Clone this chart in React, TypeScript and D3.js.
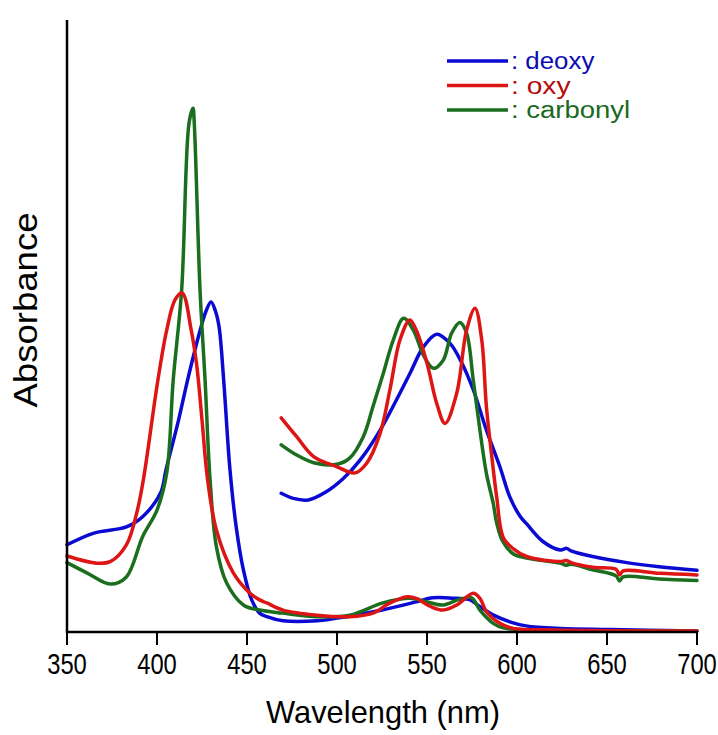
import React from "react";
import * as d3 from "d3";

// Full-range spectra (wavelength nm, absorbance arb. units)
const deoxyNm = [350, 365, 383, 392, 402, 405, 412, 417, 424, 427, 430, 432.5, 434.5, 437, 440.5, 444, 448, 452.6, 457, 461, 470, 489, 507, 525, 544, 553, 566, 574, 578, 587, 596, 605, 624, 652, 700];
const deoxyAbs = [0.171, 0.194, 0.206, 0.226, 0.273, 0.318, 0.416, 0.494, 0.592, 0.627, 0.647, 0.629, 0.598, 0.496, 0.320, 0.206, 0.122, 0.063, 0.037, 0.030, 0.022, 0.022, 0.031, 0.043, 0.059, 0.067, 0.066, 0.063, 0.053, 0.033, 0.020, 0.012, 0.007, 0.005, 0.002];

const oxyNm = [350, 366.5, 374, 383, 388.7, 392.4, 400.5, 405.4, 410, 414, 419, 422, 425, 428, 433, 442.4, 451.7, 457, 461, 470, 489, 507, 520, 529, 539, 544, 552, 559, 566.5, 575.7, 579.4, 583, 590.5, 598, 620, 700];
const oxyAbs = [0.149, 0.135, 0.138, 0.171, 0.233, 0.298, 0.494, 0.592, 0.651, 0.665, 0.592, 0.525, 0.416, 0.302, 0.200, 0.116, 0.076, 0.063, 0.057, 0.043, 0.033, 0.030, 0.037, 0.056, 0.069, 0.066, 0.050, 0.043, 0.053, 0.076, 0.066, 0.040, 0.017, 0.007, 0.004, 0.002];

const carbonylNm = [350, 361, 374, 383, 392, 400, 405.4, 409, 413.7, 417.8, 420, 420.7, 423.9, 426.7, 429.5, 433, 438.7, 448, 457, 470, 489, 507, 525.6, 540.5, 550, 559, 568, 574.8, 579.4, 586.8, 592.4, 610, 700];
const carbonylAbs = [0.136, 0.116, 0.094, 0.108, 0.187, 0.239, 0.312, 0.494, 0.671, 0.998, 1.027, 0.998, 0.671, 0.494, 0.298, 0.167, 0.096, 0.053, 0.043, 0.037, 0.030, 0.033, 0.057, 0.066, 0.059, 0.053, 0.064, 0.067, 0.043, 0.017, 0.008, 0.004, 0.002];

// Magnified visible-region spectra (470–700 nm)
const deoxyMagNm = [469, 475.7, 484, 494, 503.5, 512.8, 524, 533, 540.5, 548, 555.4, 562.8, 569, 575.7, 583, 590.5, 596, 601.7, 605.4, 614.6, 624, 627.6, 630, 642, 661, 679, 700];
const deoxyMagAbs = [0.272, 0.262, 0.259, 0.275, 0.301, 0.337, 0.396, 0.455, 0.507, 0.559, 0.584, 0.566, 0.530, 0.475, 0.396, 0.324, 0.265, 0.227, 0.212, 0.177, 0.161, 0.164, 0.159, 0.148, 0.136, 0.128, 0.121];

const oxyMagNm = [469, 477.6, 487, 500, 510, 516.5, 524, 529.4, 535, 540.5, 544, 550, 555.4, 560, 566.5, 572, 576.7, 580.4, 583, 586, 588.7, 592.4, 598, 605.4, 624, 627.6, 630, 642, 655, 657, 659, 679, 700];
const oxyMagAbs = [0.420, 0.383, 0.344, 0.324, 0.312, 0.331, 0.390, 0.475, 0.573, 0.612, 0.592, 0.527, 0.448, 0.409, 0.468, 0.592, 0.635, 0.573, 0.442, 0.344, 0.265, 0.185, 0.163, 0.148, 0.138, 0.140, 0.136, 0.127, 0.123, 0.112, 0.120, 0.115, 0.112];

const carbonylMagNm = [469, 477.6, 487, 500, 507, 514.6, 520, 525.7, 531.3, 537, 542.4, 548, 553.5, 559, 563.7, 568.3, 572, 575.7, 579.4, 583, 586.8, 588.7, 592, 598, 605.4, 624, 627, 630, 642, 655, 657, 659, 679, 700];
const carbonylMagAbs = [0.367, 0.347, 0.332, 0.329, 0.341, 0.383, 0.442, 0.507, 0.573, 0.615, 0.592, 0.543, 0.517, 0.533, 0.586, 0.607, 0.586, 0.494, 0.396, 0.311, 0.252, 0.214, 0.178, 0.153, 0.145, 0.135, 0.131, 0.133, 0.122, 0.110, 0.100, 0.108, 0.104, 0.101];

const xTicks = [350, 400, 450, 500, 550, 600, 650, 700];
const legendLabels = [": deoxy", ": oxy", ": carbonyl"];
const lineColors = ["#0a0ad2", "#dd1515", "#1a6e1e"];
const textColors = ["#0c0cb0", "#b80a0a", "#1a6a1e"];

const W = 718;
const H = 735;
const left = 67;
const right = 697;
const top = 20;
const bottom = 632;

export default function App() {
  const x = d3.scaleLinear().domain([350, 700]).range([left, right]);
  const y = d3.scaleLinear().domain([0, 1.2]).range([bottom, top]);
  const line = d3
    .line<[number, number]>()
    .x((d) => x(d[0]))
    .y((d) => y(d[1]))
    .curve(d3.curveCatmullRom.alpha(0.5));

  const zip = (a: number[], b: number[]) => a.map((v, i) => [v, b[i]] as [number, number]);

  const series = [
    { d: zip(deoxyNm, deoxyAbs), c: lineColors[0] },
    { d: zip(carbonylNm, carbonylAbs), c: lineColors[2] },
    { d: zip(oxyNm, oxyAbs), c: lineColors[1] },
    { d: zip(deoxyMagNm, deoxyMagAbs), c: lineColors[0] },
    { d: zip(carbonylMagNm, carbonylMagAbs), c: lineColors[2] },
    { d: zip(oxyMagNm, oxyMagAbs), c: lineColors[1] },
  ];

  const font = "'Liberation Sans', Arial, sans-serif";

  return (
    <svg width={W} height={H} style={{ position: "absolute", left: 0, top: 0, background: "#fff" }}>
      <g fill="none" strokeWidth={3.5} strokeLinejoin="round" strokeLinecap="round">
        {series.map((s, i) => (
          <path key={i} d={line(s.d) || ""} stroke={s.c} />
        ))}
      </g>
      {/* axes */}
      <line x1={left} x2={left} y1={top} y2={bottom + 1} stroke="#000" strokeWidth={2.5} />
      <line x1={left - 1} x2={right + 1} y1={bottom} y2={bottom} stroke="#000" strokeWidth={2.5} />
      {xTicks.map((t) => (
        <g key={t}>
          <line x1={x(t)} x2={x(t)} y1={bottom} y2={bottom + 13} stroke="#000" strokeWidth={2} />
          <text
            transform={`translate(${x(t)},674) scale(0.82,1)`}
            textAnchor="middle"
            fontFamily={font}
            fontSize={29}
            fill="#000"
          >
            {t}
          </text>
        </g>
      ))}
      <text
        x={383}
        y={723}
        textAnchor="middle"
        fontFamily={font}
        fontSize={32}
        textLength={234}
        lengthAdjust="spacingAndGlyphs"
        fill="#000"
      >
        Wavelength (nm)
      </text>
      <text
        transform="translate(37,310) rotate(-90)"
        textAnchor="middle"
        fontFamily={font}
        fontSize={33}
        textLength={195}
        lengthAdjust="spacingAndGlyphs"
        fill="#000"
      >
        Absorbance
      </text>
      {/* legend */}
      {legendLabels.map((l, i) => (
        <g key={l} transform={`translate(0,${61 + i * 24.5})`}>
          <line x1={447} x2={508} y1={0} y2={0} stroke={lineColors[i]} strokeWidth={3.5} />
          <text
            x={511}
            y={8}
            fontFamily={font}
            fontSize={23}
            textLength={l.length * 11.9}
            lengthAdjust="spacingAndGlyphs"
            fill={textColors[i]}
          >
            {l}
          </text>
        </g>
      ))}
    </svg>
  );
}
